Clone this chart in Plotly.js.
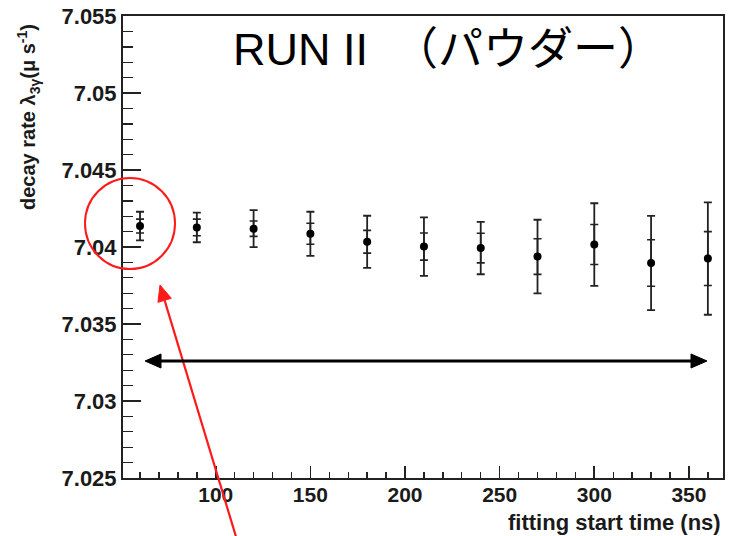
<!DOCTYPE html>
<html>
<head>
<meta charset="utf-8">
<script src="https://cdn.plot.ly/plotly-3.0.1.min.js"></script>
<style>
  html, body { margin: 0; padding: 0; background: #ffffff; }
  #chart { width: 731px; height: 536px; }
</style>
</head>
<body>
<div id="chart"></div>
<script>
// Fitting start time (ns) and the fitted decay rate with its errors
const startTimes = [60, 90, 120, 150, 180, 210, 240, 270, 300, 330, 360];
const decayRate  = [7.04136, 7.04127, 7.04119, 7.04086, 7.04034, 7.04003,
                    7.03993, 7.03938, 7.04016, 7.03896, 7.03925];
const errTotal   = [0.00093, 0.00096, 0.00120, 0.00143, 0.00169, 0.00190,
                    0.00170, 0.00239, 0.00268, 0.00306, 0.00365];
const errInner   = [0.00045, 0.00054, 0.00050, 0.00068, 0.00074, 0.00088,
                    0.00096, 0.00116, 0.00130, 0.00151, 0.00175];

const xTickVals = [100, 150, 200, 250, 300, 350];
const xTickText = ['100', '150', '200', '250', '300', '350'];
const yTickVals = [7.025, 7.03, 7.035, 7.04, 7.045, 7.05, 7.055];
const yTickText = ['7.025', '7.03', '7.035', '7.04', '7.045', '7.05', '7.055'];

// Plot frame in page pixels (left, right, top, bottom)
const W = 731, H = 536;
const frame = { l: 123, r: 723, t: 16, b: 478 };
const px = x => (x - frame.l) / (frame.r - frame.l);
const py = y => (frame.b - y) / (frame.b - frame.t);

const fontFamily = 'Liberation Sans, Arial, sans-serif';
const yTickFont = { family: fontFamily, size: 22, color: '#1a1a1a', weight: 700 };
const xTickFont = { family: fontFamily, size: 21, color: '#1a1a1a', weight: 700 };
const xTitleFont = { family: fontFamily, size: 22, color: '#1a1a1a', weight: 700 };
const yTitleFont = { family: fontFamily, size: 20, color: '#1a1a1a', weight: 700 };
const ink = '#222222';

const traces = [
  {
    x: startTimes, y: decayRate, type: 'scatter', mode: 'markers',
    marker: { color: 'rgba(0,0,0,0)', size: 1 },
    error_y: { type: 'data', array: errInner, visible: true, color: ink, thickness: 1.6, width: 4 },
    hoverinfo: 'skip', showlegend: false
  },
  {
    x: startTimes, y: decayRate, type: 'scatter', mode: 'markers',
    marker: { color: '#000000', size: 8, symbol: 'circle' },
    error_y: { type: 'data', array: errTotal, visible: true, color: ink, thickness: 1.8, width: 4 },
    showlegend: false
  }
];

// Red arrow pointing at the first point, and its head
const tail = [237, 540], tip = [160, 285];
const dx = tip[0] - tail[0], dy = tip[1] - tail[1];
const len = Math.hypot(dx, dy);
const ux = dx / len, uy = dy / len, nx = -uy, ny = ux;
const headL = 16, headW = 7;
const bx = tip[0] - headL * ux, by = tip[1] - headL * uy;
const redHead = [[tip[0], tip[1]], [bx + headW * nx, by + headW * ny], [bx - headW * nx, by - headW * ny]];

// Black double arrow across the fit range
const arrY = 361, arrL = 145, arrR = 707, bHeadL = 16, bHeadW = 7;

const pathOf = pts => 'M ' + pts.map(p => px(p[0]) + ',' + py(p[1])).join(' L ') + ' Z';

const shapes = [
  { type: 'circle', xref: 'paper', yref: 'paper',
    x0: px(85), x1: px(175), y0: py(269), y1: py(178),
    line: { color: '#ff1a1a', width: 2 } },
  { type: 'line', xref: 'paper', yref: 'paper',
    x0: px(tail[0]), y0: py(tail[1]), x1: px(bx), y1: py(by),
    line: { color: '#ff1a1a', width: 2.2 } },
  { type: 'path', xref: 'paper', yref: 'paper', path: pathOf(redHead),
    fillcolor: '#ff1a1a', line: { color: '#ff1a1a', width: 1 } },
  { type: 'line', xref: 'paper', yref: 'paper',
    x0: px(arrL + bHeadL - 2), y0: py(arrY), x1: px(arrR - bHeadL + 2), y1: py(arrY),
    line: { color: '#000000', width: 3 } },
  { type: 'path', xref: 'paper', yref: 'paper',
    path: pathOf([[arrL, arrY], [arrL + bHeadL, arrY - bHeadW], [arrL + bHeadL, arrY + bHeadW]]),
    fillcolor: '#000000', line: { color: '#000000', width: 1 } },
  { type: 'path', xref: 'paper', yref: 'paper',
    path: pathOf([[arrR, arrY], [arrR - bHeadL, arrY - bHeadW], [arrR - bHeadL, arrY + bHeadW]]),
    fillcolor: '#000000', line: { color: '#000000', width: 1 } }
];

const annotations = [
  { text: 'RUN II  （パウダー）', xref: 'paper', yref: 'paper',
    x: px(231), y: py(50), xanchor: 'left', yanchor: 'middle', showarrow: false,
    font: { family: 'Liberation Sans, Noto Sans CJK JP, sans-serif', size: 45, color: '#000000' } },
  { text: 'fitting start time (ns)', xref: 'paper', yref: 'paper',
    x: px(723), y: py(522), xanchor: 'right', yanchor: 'middle', showarrow: false,
    font: xTitleFont },
  { text: 'decay rate λ<sub>3γ</sub>(μ s<sup>-1</sup>)', xref: 'paper', yref: 'paper',
    x: px(29), y: py(117), xanchor: 'center', yanchor: 'middle', showarrow: false,
    textangle: -90, font: yTitleFont }
];

const layout = {
  width: W, height: H,
  margin: { l: frame.l, r: W - frame.r, t: frame.t, b: H - frame.b, pad: 0 },
  paper_bgcolor: '#ffffff', plot_bgcolor: '#ffffff',
  showlegend: false,
  xaxis: {
    range: [51, 368], showgrid: false, zeroline: false,
    showline: true, linecolor: ink, linewidth: 2, mirror: true,
    tickmode: 'array', tickvals: xTickVals, ticktext: xTickText,
    ticks: 'inside', ticklen: 12, tickwidth: 1.6, tickcolor: ink,
    ticklabelstandoff: -3,
    minor: { tickmode: 'linear', tick0: 0, dtick: 10, ticks: 'inside', ticklen: 6, tickwidth: 1.4, tickcolor: ink, showgrid: false },
    tickfont: xTickFont
  },
  yaxis: {
    range: [7.025, 7.055], showgrid: false, zeroline: false,
    showline: true, linecolor: ink, linewidth: 2, mirror: true,
    tickmode: 'array', tickvals: yTickVals, ticktext: yTickText,
    ticks: 'inside', ticklen: 18, tickwidth: 1.6, tickcolor: ink,
    minor: { tickmode: 'linear', tick0: 7.025, dtick: 0.001, ticks: 'inside', ticklen: 10, tickwidth: 1.4, tickcolor: ink, showgrid: false },
    tickfont: yTickFont
  },
  shapes: shapes,
  annotations: annotations
};

Plotly.newPlot('chart', traces, layout, { staticPlot: true, displayModeBar: false });
</script>
</body>
</html>
